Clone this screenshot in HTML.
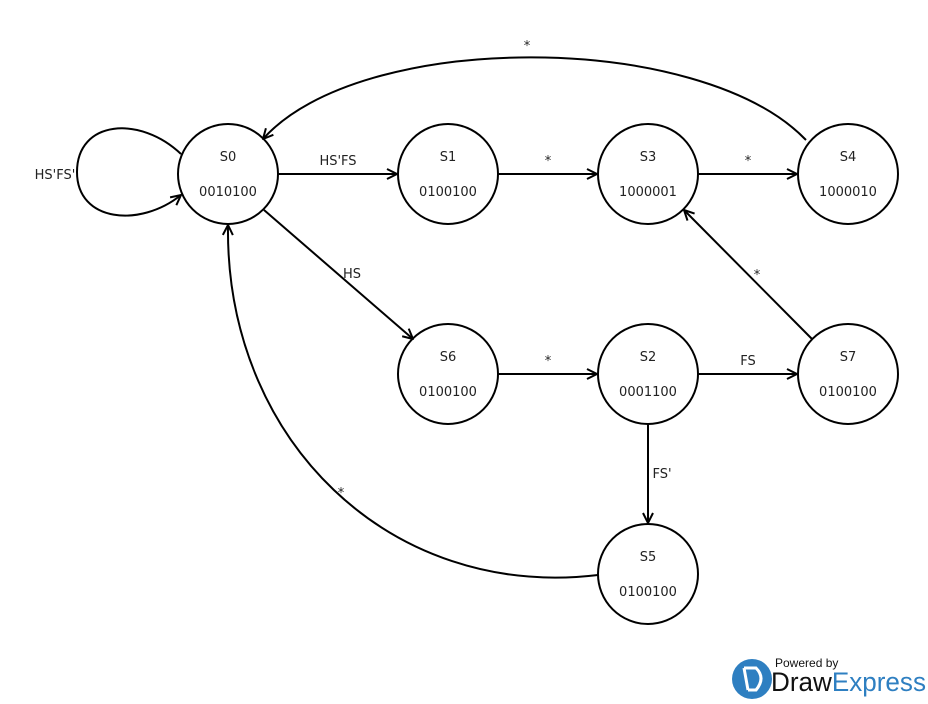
<!DOCTYPE html>
<html><head><meta charset="utf-8"><style>
html,body{margin:0;padding:0;background:#fff;}
svg{display:block;}
text{font-family:"DejaVu Sans","Liberation Sans",sans-serif;font-size:13px;fill:#222;}
</style></head><body>
<svg width="928" height="704" viewBox="0 0 928 704" xmlns="http://www.w3.org/2000/svg">
<defs>
<marker id="a" viewBox="0 0 12 12" refX="11" refY="6" markerWidth="12" markerHeight="12" markerUnits="userSpaceOnUse" orient="auto">
<path d="M1,1 L11,6 L1,11" fill="none" stroke="#000" stroke-width="2"/>
</marker>
</defs>
<g fill="none" stroke="#000" stroke-width="2">
<circle cx="228" cy="174" r="50"/>
<circle cx="448" cy="174" r="50"/>
<circle cx="648" cy="174" r="50"/>
<circle cx="848" cy="174" r="50"/>
<circle cx="448" cy="374" r="50"/>
<circle cx="648" cy="374" r="50"/>
<circle cx="848" cy="374" r="50"/>
<circle cx="648" cy="574" r="50"/>
<path d="M278,174 L397,174" marker-end="url(#a)"/>
<path d="M498,174 L597,174" marker-end="url(#a)"/>
<path d="M698,174 L797,174" marker-end="url(#a)"/>
<path d="M498,374 L597,374" marker-end="url(#a)"/>
<path d="M698,374 L797,374" marker-end="url(#a)"/>
<path d="M648,424 L648,523" marker-end="url(#a)"/>
<path d="M264,210 L413,339" marker-end="url(#a)"/>
<path d="M812,339 L684,210" marker-end="url(#a)"/>
<path d="M806,140 C700,30 360,30 263,139" marker-end="url(#a)"/>
<path d="M598,575 C390,600 225,440 228,225" marker-end="url(#a)"/>
<path d="M181,154 C140,115 77,120 77,172 C77,222 140,228 181,195" marker-end="url(#a)"/>
</g>
<g text-anchor="middle">
<text x="228" y="161">S0</text><text x="228" y="196">0010100</text>
<text x="448" y="161">S1</text><text x="448" y="196">0100100</text>
<text x="648" y="161">S3</text><text x="648" y="196">1000001</text>
<text x="848" y="161">S4</text><text x="848" y="196">1000010</text>
<text x="448" y="361">S6</text><text x="448" y="396">0100100</text>
<text x="648" y="361">S2</text><text x="648" y="396">0001100</text>
<text x="848" y="361">S7</text><text x="848" y="396">0100100</text>
<text x="648" y="561">S5</text><text x="648" y="596">0100100</text>
<text x="338" y="165">HS'FS</text>
<text x="548" y="165">*</text>
<text x="748" y="165">*</text>
<text x="548" y="365">*</text>
<text x="748" y="365">FS</text>
<text x="662" y="478">FS'</text>
<text x="352" y="278">HS</text>
<text x="757" y="279">*</text>
<text x="527" y="50">*</text>
<text x="341" y="497">*</text>
<text x="55" y="179">HS'FS'</text>
</g>
<g>
<circle cx="752" cy="679" r="20" fill="#2e7fc1"/>
<path d="M744,668 L756,668 Q766,678 756,690 L748,690 M744,668 L748,690" fill="none" stroke="#fff" stroke-width="3"/>
<text x="775" y="667" style="font-family:'Liberation Sans',sans-serif;font-size:12px;fill:#111">Powered by</text>
<text x="771" y="691" textLength="155" lengthAdjust="spacingAndGlyphs" style="font-family:'Liberation Sans',sans-serif;font-size:27px;fill:#111">Draw<tspan style="fill:#2e7fc1">Express</tspan></text>
</g>
</svg>
</body></html>
